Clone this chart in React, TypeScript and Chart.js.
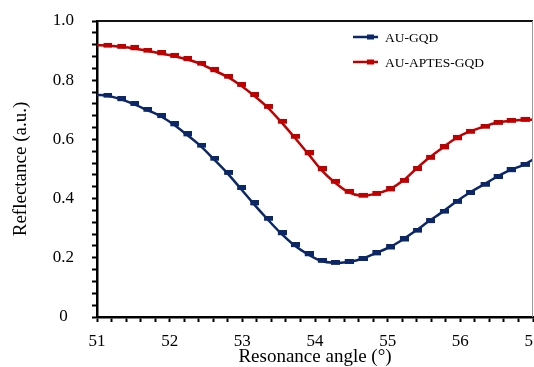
import React, { useEffect, useRef } from "react";
import { Chart, registerables } from "chart.js";

Chart.register(...registerables);

// Resonance angle (degrees); first and last entries are the curve ends, the rest are measured samples
const angles = [
  51.0, 51.13, 51.32, 51.5, 51.68, 51.87, 52.05, 52.23, 52.42, 52.6, 52.79, 52.97, 53.15,
  53.34, 53.53, 53.71, 53.9, 54.08, 54.26, 54.45, 54.64, 54.83, 55.02, 55.21, 55.39,
  55.57, 55.76, 55.94, 56.12, 56.32, 56.5, 56.68, 56.87, 57.0,
];

const auGqd = [
  0.75, 0.748, 0.736, 0.72, 0.7, 0.679, 0.651, 0.617, 0.579, 0.535, 0.487, 0.436, 0.384,
  0.332, 0.283, 0.243, 0.212, 0.19, 0.183, 0.186, 0.196, 0.215, 0.235, 0.262, 0.292,
  0.324, 0.356, 0.389, 0.419, 0.447, 0.473, 0.496, 0.514, 0.532,
];

const auAptesGqd = [
  0.918, 0.917, 0.913, 0.908, 0.9, 0.891, 0.882, 0.871, 0.856, 0.834, 0.812, 0.784, 0.75,
  0.71, 0.66, 0.609, 0.553, 0.499, 0.457, 0.423, 0.41, 0.416, 0.431, 0.46, 0.5, 0.538,
  0.573, 0.604, 0.626, 0.643, 0.656, 0.663, 0.666, 0.667,
];

const seriesLabels = ["AU-GQD", "AU-APTES-GQD"];
const seriesColors = ["#0b2767", "#c00000"];

const xTitle = "Resonance angle (°)";
const yTitle = "Reflectance (a.u.)";

const SERIF = "'Liberation Serif', 'Times New Roman', Times, serif";

// small flag-like rectangular marker, sitting a little right of the point
function makeMarker(color: string): HTMLCanvasElement {
  const c = document.createElement("canvas");
  c.width = 12;
  c.height = 6;
  const g = c.getContext("2d")!;
  g.fillStyle = color;
  g.fillRect(3, 0, 9, 5);
  return c;
}

const frameAndLegend = {
  id: "frameAndLegend",
  afterDatasetsDraw(chart: any) {
    const { ctx, chartArea } = chart;
    const { left, right, top, bottom } = chartArea;
    ctx.save();
    // top frame line
    ctx.strokeStyle = "#111";
    ctx.lineWidth = 2;
    ctx.beginPath();
    ctx.moveTo(left, top);
    ctx.lineTo(right, top);
    ctx.stroke();
    // right frame line
    ctx.strokeStyle = "#9a9a9a";
    ctx.lineWidth = 1;
    ctx.beginPath();
    ctx.moveTo(right - 0.5, top);
    ctx.lineTo(right - 0.5, bottom);
    ctx.stroke();

    // legend
    const x0 = left + 256;
    const x1 = left + 281;
    const tx = left + 288;
    chart.data.datasets.forEach((ds: any, i: number) => {
      const y = top + 16 + i * 25;
      ctx.strokeStyle = ds.borderColor;
      ctx.lineWidth = 2.5;
      ctx.beginPath();
      ctx.moveTo(x0, y);
      ctx.lineTo(x1, y);
      ctx.stroke();
      ctx.fillStyle = ds.borderColor;
      ctx.fillRect(x0 + 14, y - 2.5, 7, 5);
      ctx.fillStyle = "#000";
      ctx.font = `13.5px ${SERIF}`;
      ctx.textAlign = "left";
      ctx.textBaseline = "middle";
      ctx.fillText(ds.label, tx, y + 1);
    });
    ctx.restore();
  },
};

export default function App() {
  const canvasRef = useRef<HTMLCanvasElement | null>(null);

  useEffect(() => {
    document.body.style.margin = "0";
    const canvas = canvasRef.current;
    if (!canvas) return;

    const last = angles.length - 1;
    const makeDataset = (values: number[], i: number) => ({
      label: seriesLabels[i],
      data: angles.map((a, k) => ({ x: a, y: values[k] })),
      borderColor: seriesColors[i],
      backgroundColor: seriesColors[i],
      borderWidth: 2.5,
      tension: 0.3,
      pointStyle: makeMarker(seriesColors[i]),
      pointRadius: (c: any) => (c.dataIndex === 0 || c.dataIndex === last ? 0 : 4),
      pointHoverRadius: 4,
      fill: false,
    });

    const chart = new Chart(canvas, {
      type: "line",
      data: {
        datasets: [makeDataset(auGqd, 0), makeDataset(auAptesGqd, 1)],
      },
      plugins: [frameAndLegend],
      options: {
        animation: false,
        responsive: false,
        maintainAspectRatio: false,
        layout: { padding: { top: 21, right: 1, left: 0, bottom: 0 } },
        plugins: {
          legend: { display: false },
          tooltip: { enabled: false },
        },
        scales: {
          x: {
            type: "linear",
            min: 51,
            max: 57,
            ticks: {
              stepSize: 0.2,
              maxTicksLimit: 100,
              autoSkip: false,
              maxRotation: 0,
              padding: 9,
              color: "#000",
              font: { family: SERIF, size: 17 },
              callback: (v: any) => {
                const n = Number(v);
                const r = Math.round(n);
                return Math.abs(n - r) < 1e-6 ? String(r) : "";
              },
            },
            grid: {
              drawOnChartArea: false,
              drawTicks: true,
              tickLength: 5,
              tickColor: "#000",
              tickWidth: 2,
            },
            border: { color: "#000", width: 2.5 },
            title: {
              display: true,
              text: xTitle,
              color: "#000",
              font: { family: SERIF, size: 19, lineHeight: 1 },
              padding: { top: 0, bottom: 0 },
            },
            afterFit: (s: any) => {
              s.height = 50;
              s.paddingLeft = 0;
              s.paddingRight = 0;
            },
          },
          y: {
            type: "linear",
            min: 0,
            max: 1.0,
            ticks: {
              stepSize: 0.04,
              maxTicksLimit: 100,
              autoSkip: false,
              padding: 18,
              crossAlign: "center",
              color: "#000",
              font: { family: SERIF, size: 17 },
              callback: (v: any) => {
                const n = Number(v);
                const r = Math.round(n / 0.2);
                if (Math.abs(n / 0.2 - r) > 1e-6) return "";
                return r === 0 ? "0" : (r * 0.2).toFixed(1);
              },
            },
            grid: {
              drawOnChartArea: false,
              drawTicks: true,
              tickLength: 5,
              tickColor: "#000",
              tickWidth: 2,
            },
            border: { color: "#000", width: 2.5 },
            title: {
              display: true,
              text: yTitle,
              color: "#000",
              font: { family: SERIF, size: 19, lineHeight: 1 },
              padding: { top: 12, bottom: 0 },
            },
            afterFit: (s: any) => {
              s.width = 97;
              s.paddingTop = 0;
              s.paddingBottom = 0;
            },
          },
        },
      } as any,
    });

    return () => chart.destroy();
  }, []);

  return (
    <div style={{ width: 534, height: 367 }}>
      <canvas ref={canvasRef} width={534} height={367} />
    </div>
  );
}
